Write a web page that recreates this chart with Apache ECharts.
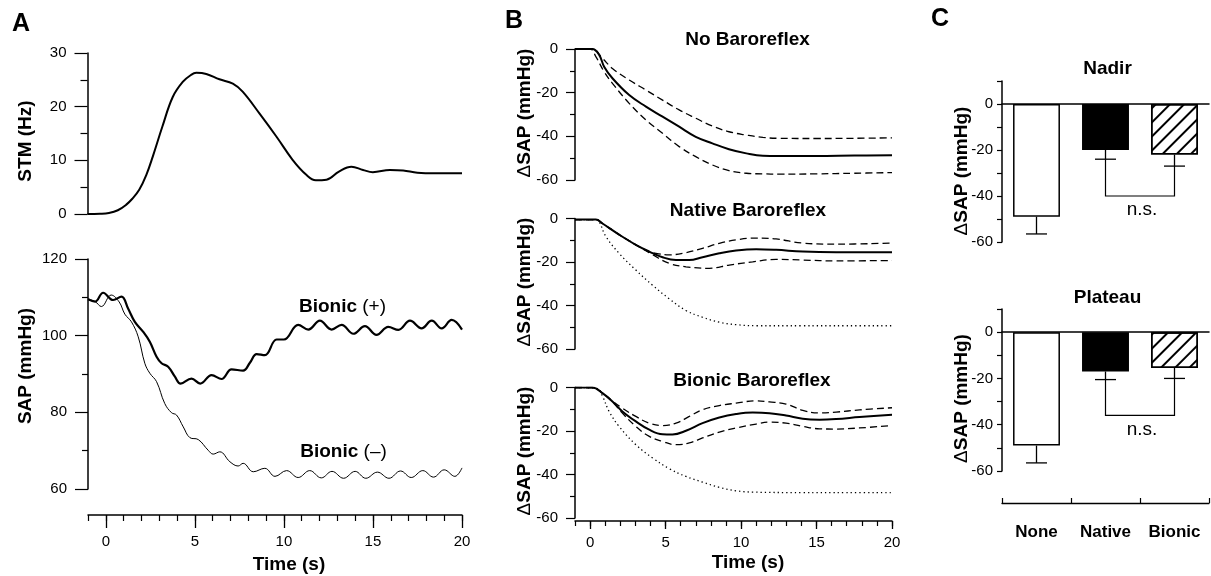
<!DOCTYPE html>
<html><head><meta charset="utf-8">
<script src="https://cdn.jsdelivr.net/npm/echarts@6/dist/echarts.min.js"></script>
<style>html,body{margin:0;padding:0;background:#fff}#c{width:1211px;height:576px}</style>
</head><body><div id="c"></div>
<script>
// ---------- Panel A data ----------
const stmT = [-1.0,-0.3,0.2,0.7,1.16,1.5,1.9,2.3,2.66,3.2,3.78,4.34,4.8,5.1,5.66,6.4,7.15,7.7,8.65,9.6,10.5,11.27,11.8,12.4,13.1,13.8,14.45,15.0,15.96,16.7,17.5,18.5,20];
const stmV = [0,0.05,0.2,0.7,1.7,2.8,4.5,7.3,10.7,16.3,21.8,24.6,25.9,26.3,26.1,25.1,24.3,22.8,18.7,14.4,10.1,7.3,6.3,6.4,7.9,8.8,8.2,7.8,8.2,8.1,7.7,7.6,7.6];

const bPlusT = [-1.0,-0.6,-0.15,0.41,0.88,1.25,1.63,2.1,2.47,2.85,3.13,3.5,3.88,4.2,4.81,5.3,5.94,6.5,7.06,7.71,8.1,8.47,8.93,9.59,10.0,10.8,11.37,12.02,12.68,13.24,13.9,14.55,15.2,15.86,16.43,17.08,17.73,18.3,18.86,19.42,20.0];
const bPlusV = [109.5,108.9,111.2,109.3,110.2,107.1,103.6,101.0,98.4,94.5,92.8,91.9,89.3,87.5,88.8,87.5,89.7,88.7,91.2,90.9,93.0,95.2,94.9,99.0,99.0,102.8,101.6,103.9,101.6,102.8,100.5,102.5,100.2,102.3,101.5,103.9,101.9,103.9,101.9,104.1,101.6];

const bMinusT = [-1.0,-0.6,-0.25,0.3,0.75,1.07,1.44,1.82,2.19,2.47,2.85,3.31,3.69,3.97,4.35,4.72,5.19,5.75,6.03,6.4,6.97,7.43,7.71,8.28,8.93,9.5,10.15,10.8,11.45,12.1,12.7,13.35,14.0,14.6,15.25,15.9,16.55,17.15,17.8,18.4,19.0,19.6,20.0];
const bMinusV = [109.6,108.9,107.6,110.6,108.8,105.6,103.6,99.7,92.8,90.2,88.0,82.3,79.9,79.3,76.2,73.4,72.9,70.1,69.1,69.7,67.1,66.0,66.7,64.5,65.4,63.3,64.8,63.0,64.8,62.9,64.6,62.8,64.6,62.8,64.4,62.8,64.7,63.0,64.8,63.1,65.0,63.3,65.5];

// ---------- Panel B data ----------
const noMeanT = [-1,0.15,0.6,0.93,1.48,2.59,3.7,4.8,5.9,7.0,8.1,9.2,10.35,11.45,12.5,15,17.5,20];
const noMeanV = [0,0,-2.7,-8.1,-13.4,-21.1,-26.4,-31.0,-35.6,-40.2,-43.2,-45.9,-47.8,-48.9,-49.0,-49.0,-48.8,-48.7];
const noUpT = [-1,0.15,0.82,1.48,2.59,3.7,4.8,5.9,7.0,8.1,9.2,10.35,11.45,12.5,15,17.5,20];
const noUpV = [0,0,-4.3,-8.9,-14.2,-18.8,-23.4,-27.9,-31.7,-35.3,-37.9,-39.4,-40.5,-40.9,-41.0,-40.9,-40.7];
const noLoT = [-1,0.0,0.38,0.93,1.48,2.59,3.7,4.8,5.9,7.0,8.1,9.2,10.35,11.45,12.5,15,17.5,20];
const noLoV = [0,0,-3.5,-10.4,-15.7,-24.9,-32.5,-38.6,-44.7,-49.3,-53.1,-55.7,-56.9,-57.2,-57.3,-57.2,-56.9,-56.6];

const natMeanT = [-1,0.38,0.82,1.92,3.03,3.92,4.8,5.69,6.57,7.45,8.56,9.67,11.0,12.32,14.09,16.3,20];
const natMeanV = [-0.5,-0.5,-2.3,-7.4,-12.1,-15.2,-17.8,-19.1,-19.1,-17.8,-16.0,-14.7,-14.1,-14.4,-15.2,-15.5,-15.5];
const natUpT = [-1,0.38,0.82,1.92,3.03,3.7,4.36,5.24,6.35,7.45,8.56,9.67,11.0,12.32,14.09,16.3,20];
const natUpV = [-0.5,-0.5,-2.3,-7.4,-12.1,-14.6,-16.0,-16.7,-15.7,-13.7,-11.4,-9.8,-9.0,-9.4,-11.3,-11.8,-11.3];
const natLoT = [-1,0.38,0.82,1.92,3.03,3.6,4.1,5.24,6.35,7.9,9.22,10.77,12.32,14.09,16.3,20];
const natLoV = [-0.5,-0.5,-2.3,-7.4,-12.1,-14.4,-16.5,-20.6,-22.2,-22.9,-21.4,-19.9,-18.8,-19.1,-19.5,-19.3];
const natDotT = [-1,0.38,0.6,1.04,1.92,3.03,4.14,5.24,6.35,7.45,8.56,9.67,11,14,17,20];
const natDotV = [-0.5,-0.5,-1.5,-8.2,-16.0,-23.7,-30.7,-36.9,-42.3,-45.4,-47.7,-48.8,-49.3,-49.3,-49.3,-49.3];

const bioMeanT = [-1,0.15,0.82,1.48,2.14,3.03,3.92,4.8,5.46,6.35,7.45,8.56,9.67,10.77,11.88,12.98,14.09,15.2,16.3,17.85,20];
const bioMeanV = [0,0,-2.6,-6.4,-11.0,-15.6,-19.4,-21.5,-21.6,-19.9,-16.4,-13.8,-12.2,-11.5,-11.8,-12.9,-14.4,-14.8,-14.5,-13.6,-12.5];
const bioUpT = [-1,0.15,0.82,1.48,2.14,3.03,3.92,4.8,5.69,6.57,7.45,8.56,9.67,11.0,11.88,12.98,14.09,15.2,16.3,17.85,20];
const bioUpV = [0,0,-2.6,-6.2,-9.5,-13.3,-16.4,-17.5,-16.4,-13.3,-10.2,-8.3,-7.2,-6.1,-6.6,-7.6,-10.5,-11.7,-11.3,-10.3,-9.3];
const bioLoT = [-1,0.15,0.82,1.48,2.14,3.03,3.92,4.8,5.69,6.57,7.45,8.56,9.67,11.0,11.88,12.98,14.09,15.2,16.3,17.85,20];
const bioLoV = [0,0,-2.6,-6.6,-11.8,-17.9,-22.5,-24.8,-26.3,-25.5,-23.2,-20.5,-18.6,-16.8,-15.9,-16.4,-17.9,-19.0,-19.1,-18.6,-17.5];
const bioDotT = [-1,0.5,0.82,1.26,1.92,3.03,4.14,5.24,6.35,7.45,8.56,9.67,10.77,14,17,20];
const bioDotV = [0,-0.5,-4.0,-11.0,-17.9,-26.3,-32.4,-37.3,-40.9,-43.5,-45.9,-47.5,-48.1,-48.3,-48.3,-48.3];

// ---------- Panel C data ----------
const cats = ['None','Native','Bionic'];
const nadirMean = [-49,-20,-22];
const nadirErr = [7.5,4,5];
const nadirBracket = -40;
const plateauMean = [-49,-17,-15.5];
const plateauErr = [7.5,3.5,4.5];
const plateauBracket = -36;

const timeTicks = [0,5,10,15,20];

// ---------- helpers ----------
const FONT = 'Liberation Sans, Arial, Helvetica, sans-serif';
const BLK = '#000';
function zip(t,v){ return t.map((x,i)=>[x,v[i]]); }
const lineAx = {show:true, onZero:false, lineStyle:{color:BLK, width:1.5}};
const lbl = {color:BLK, fontSize:15, fontFamily:FONT};

function lineSeries(xi, yi, t, v, width, type){
  return {type:'line', xAxisIndex:xi, yAxisIndex:yi, data:zip(t,v), showSymbol:false, smooth:0.4,
    lineStyle:{color:BLK, width:width, type:type||'solid'}, silent:true, z:3};
}

function yVal(gi, min, max, interval, tickLen, minorLen, margin){
  return {type:'value', gridIndex:gi, min:min, max:max, interval:interval,
    axisLine:lineAx, axisTick:{show:true, length:tickLen, lineStyle:{color:BLK, width:1.2}},
    minorTick:{show:true, splitNumber:2, length:minorLen, lineStyle:{color:BLK, width:1.2}},
    axisLabel:Object.assign({margin:margin}, lbl), splitLine:{show:false}, minorSplitLine:{show:false}};
}
function xHidden(gi){
  return {type:'value', gridIndex:gi, min:-1, max:20, show:false, splitLine:{show:false}};
}
function xMinor(gi, offset, len){
  return {type:'value', gridIndex:gi, min:-1, max:20, interval:1, position:'bottom', offset:offset,
    axisLine:lineAx, axisTick:{show:true, length:len, lineStyle:{color:BLK, width:1.2}},
    axisLabel:{show:false}, splitLine:{show:false}};
}
function xMajor(gi, offset, len, margin){
  return {type:'value', gridIndex:gi, min:-1, max:20, position:'bottom', offset:offset,
    axisLine:{show:false, onZero:false}, axisTick:{show:true, length:len, customValues:timeTicks, lineStyle:{color:BLK, width:1.3}},
    axisLabel:Object.assign({margin:margin, customValues:timeTicks}, lbl), splitLine:{show:false}};
}
function yC(gi){
  return {type:'value', gridIndex:gi, min:-60, max:10, interval:10,
    axisLine:lineAx, axisTick:{show:true, length:5, lineStyle:{color:BLK, width:1.2}},
    axisLabel:Object.assign({margin:9, formatter:function(v){ return (v%20===0 && v<=0) ? String(v) : ''; }}, lbl),
    splitLine:{show:false}};
}

const hatch = {symbol:'rect', symbolSize:1, dashArrayX:[1,0], dashArrayY:[2,7.5], rotation:-Math.PI/4, color:BLK};
function barItems(means){
  return means.map((m,i)=>{
    const it = {value:m, itemStyle:{borderColor:BLK, borderWidth:1.5, color:'#fff'}};
    if(i===1) it.itemStyle.color = BLK;
    if(i===2) it.itemStyle.decal = hatch;
    return it;
  });
}
function errSeries(xi, yi, means, errs){
  return {type:'custom', xAxisIndex:xi, yAxisIndex:yi, z:5, silent:true,
    data: means.map((m,i)=>[i, m, m-errs[i]]),
    encode:{x:0, y:[1,2]},
    renderItem:function(params, api){
      const a = api.coord([api.value(0), api.value(1)]);
      const b = api.coord([api.value(0), api.value(2)]);
      const hw = 10.5;
      const st = {stroke:BLK, lineWidth:1.3};
      return {type:'group', children:[
        {type:'line', shape:{x1:a[0], y1:a[1], x2:b[0], y2:b[1]}, style:st},
        {type:'line', shape:{x1:b[0]-hw, y1:b[1], x2:b[0]+hw, y2:b[1]}, style:st}
      ]};
    }};
}
function bracketSeries(xi, yi, means, errs, level){
  return {type:'custom', xAxisIndex:xi, yAxisIndex:yi, z:5, silent:true,
    data:[[1, means[1]-errs[1], 2, means[2]-errs[2], level]],
    encode:{x:[0,2], y:[1,3,4]},
    renderItem:function(params, api){
      const p1 = api.coord([api.value(0), api.value(1)]);
      const p2 = api.coord([api.value(0), api.value(4)]);
      const p3 = api.coord([api.value(2), api.value(4)]);
      const p4 = api.coord([api.value(2), api.value(3)]);
      return {type:'group', children:[
        {type:'polyline', shape:{points:[p1,p2,p3,p4]}, style:{stroke:BLK, lineWidth:1.2, fill:null}},
        {type:'text', x:(p2[0]+p3[0])/2+2, y:p2[1]+14, style:{text:'n.s.', fontSize:19, fontFamily:FONT, fill:BLK, align:'center', verticalAlign:'middle'}}
      ]};
    }};
}

function txt(x, y, text, size, bold, rot, rich){
  const s = {text:text, fontSize:size, fontFamily:FONT, fontWeight:bold?'bold':'normal', fill:BLK, align:'center', verticalAlign:'middle'};
  if(rich) s.rich = rich;
  const o = {type:'text', x:x, y:y, style:s, silent:true};
  if(rot) o.rotation = Math.PI/2;
  return o;
}
const dRich = {d:{fontWeight:'normal', fontSize:19, fontFamily:FONT, fill:BLK}};
const pRich = {p:{fontWeight:'normal', fontSize:19, fontFamily:FONT, fill:BLK}};

const option = {
  animation:false,
  backgroundColor:'#fff',
  grid:[
    {left:87.5, top:53, width:374.5, height:161},
    {left:88, top:259, width:374, height:230},
    {left:575, top:49, width:317, height:131},
    {left:575, top:218.5, width:317, height:130.5},
    {left:575, top:387.5, width:317, height:130.5},
    {left:1002, top:81, width:207, height:161},
    {left:1002, top:309, width:207, height:162}
  ],
  xAxis:[
    xHidden(0),                 //0
    xMinor(1, 26, 6),           //1
    xMajor(1, 26, 13, 19),      //2
    xHidden(2),                 //3
    xHidden(3),                 //4
    xMinor(4, 3, 5),            //5
    xMajor(4, 3, 8, 14),        //6
    {type:'category', gridIndex:5, data:cats, axisLine:{show:true, onZero:true, lineStyle:{color:BLK, width:1.5}}, axisTick:{show:false}, axisLabel:{show:false}}, //7
    {type:'category', gridIndex:6, data:cats, axisLine:{show:true, onZero:true, lineStyle:{color:BLK, width:1.5}}, axisTick:{show:false}, axisLabel:{show:false}}, //8
    {type:'category', gridIndex:6, data:cats, position:'bottom', offset:32,
      axisLine:{show:true, onZero:false, lineStyle:{color:BLK, width:1.3}},
      axisTick:{show:true, inside:true, length:5, lineStyle:{color:BLK, width:1.2}},
      axisLabel:{margin:21, color:BLK, fontSize:17, fontWeight:'bold', fontFamily:FONT}} //9
  ],
  yAxis:[
    yVal(0, 0, 30, 10, 13, 7, 21),
    yVal(1, 60, 120, 20, 13, 6, 21),
    yVal(2, -60, 0, 20, 9, 5, 17),
    yVal(3, -60, 0, 20, 9, 5, 17),
    yVal(4, -60, 0, 20, 9, 5, 17),
    yC(5),
    yC(6)
  ],
  series:[
    lineSeries(0,0,stmT,stmV,2),
    lineSeries(1,1,bPlusT,bPlusV,2.2),
    lineSeries(1,1,bMinusT,bMinusV,1),
    lineSeries(3,2,noUpT,noUpV,1.3,[7,4]),
    lineSeries(3,2,noLoT,noLoV,1.3,[7,4]),
    lineSeries(3,2,noMeanT,noMeanV,2),
    lineSeries(4,3,natDotT,natDotV,1.3,[1.3,3]),
    lineSeries(4,3,natUpT,natUpV,1.3,[7,4]),
    lineSeries(4,3,natLoT,natLoV,1.3,[7,4]),
    lineSeries(4,3,natMeanT,natMeanV,2),
    lineSeries(5,4,bioDotT,bioDotV,1.3,[1.3,3]),
    lineSeries(5,4,bioUpT,bioUpV,1.3,[7,4]),
    lineSeries(5,4,bioLoT,bioLoV,1.3,[7,4]),
    lineSeries(5,4,bioMeanT,bioMeanV,2),
    {type:'bar', xAxisIndex:7, yAxisIndex:5, data:barItems(nadirMean), barWidth:'68%', silent:true, z:2},
    errSeries(7,5,nadirMean,nadirErr),
    bracketSeries(7,5,nadirMean,nadirErr,nadirBracket),
    {type:'bar', xAxisIndex:8, yAxisIndex:6, data:barItems(plateauMean), barWidth:'68%', silent:true, z:2},
    errSeries(8,6,plateauMean,plateauErr),
    bracketSeries(8,6,plateauMean,plateauErr,plateauBracket)
  ],
  graphic:[
    txt(21,24,'A',25,true),
    txt(514,21,'B',25,true),
    txt(940,19,'C',25,true),
    txt(26,141,'STM (Hz)',19,true,true),
    txt(26,366,'SAP (mmHg)',19,true,true),
    txt(289,565,'Time (s)',19,true),
    txt(748,563,'Time (s)',19,true),
    txt(342.5,307,'Bionic {p|(+)}',19,true,false,pRich),
    txt(343.5,452,'Bionic {p|(–)}',19,true,false,pRich),
    txt(747.5,40,'No Baroreflex',19,true),
    txt(748,211,'Native Baroreflex',19,true),
    txt(752,381,'Bionic Baroreflex',19,true),
    txt(525,113,'{d|Δ}SAP (mmHg)',19,true,true,dRich),
    txt(525,282,'{d|Δ}SAP (mmHg)',19,true,true,dRich),
    txt(525,451,'{d|Δ}SAP (mmHg)',19,true,true,dRich),
    txt(1107.5,68.5,'Nadir',19,true),
    txt(1107.5,297.5,'Plateau',19,true),
    txt(962,171,'{d|Δ}SAP (mmHg)',19,true,true,dRich),
    txt(962,398.5,'{d|Δ}SAP (mmHg)',19,true,true,dRich)
  ]
};
const chart = echarts.init(document.getElementById('c'), null, {renderer:'canvas'});
chart.setOption(option);
</script>
</body></html>
